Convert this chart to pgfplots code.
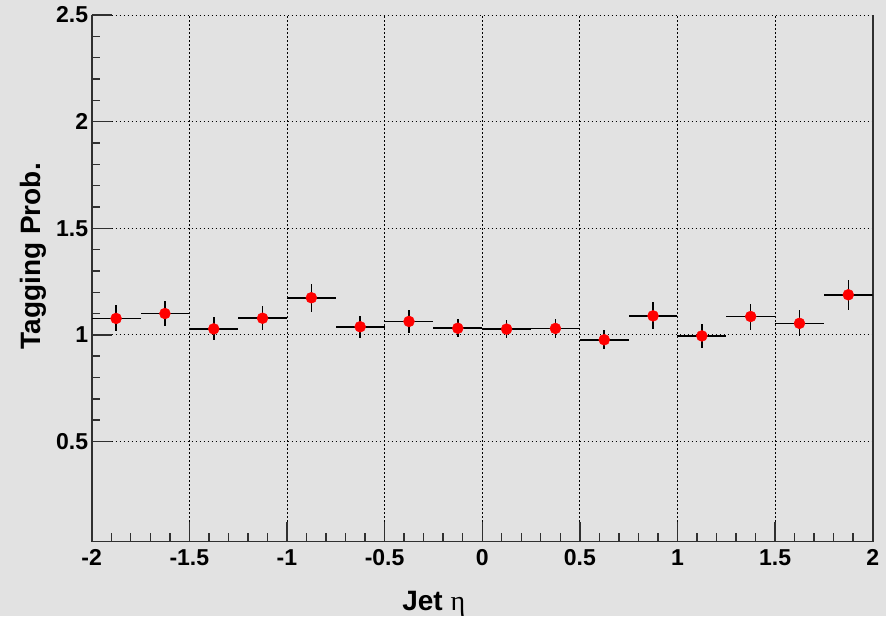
\documentclass[border=0pt]{standalone}
\usepackage{fontspec}
\setmainfont{Liberation Sans}
\newfontfamily\seriffont{Liberation Serif}
\usepackage{pgfplots}
\pgfplotsset{compat=1.18}
\definecolor{bg}{HTML}{E2E2E2}
\definecolor{axcol}{HTML}{303030}
\pgfplotstableread{
x y ex ey
-1.875 1.077 0.125 0.061
-1.625 1.100 0.125 0.060
-1.375 1.028 0.125 0.054
-1.125 1.078 0.125 0.056
-0.875 1.174 0.125 0.065
-0.625 1.038 0.125 0.052
-0.375 1.063 0.125 0.052
-0.125 1.031 0.125 0.043
0.125 1.027 0.125 0.044
0.375 1.030 0.125 0.046
0.625 0.977 0.125 0.045
0.875 1.089 0.125 0.063
1.125 0.995 0.125 0.055
1.375 1.086 0.125 0.061
1.625 1.054 0.125 0.061
1.875 1.188 0.125 0.070
}\datatable
\begin{document}
\begin{tikzpicture}[x=1pt,y=1pt]
\fill[bg] (0,0) rectangle (886,616);
\begin{axis}[
  at={(91.7pt,74.3pt)}, anchor=south west,
  scale only axis, width=781pt, height=526.7pt,
  xmin=-2, xmax=2, ymin=0.03, ymax=2.5,
  axis x line*=bottom, axis y line*=box,
  x axis line style={-}, y axis line style={-},
  axis line style={axcol, line width=1.6pt},
  xtick={-2,-1.5,-1,-0.5,0,0.5,1,1.5,2},
  xticklabels={-2,-1.5,-1,-0.5,0,0.5,1,1.5,2},
  ytick={0.5,1,1.5,2,2.5},
  yticklabels={0.5,1,1.5,2,2.5},
  minor x tick num=4, minor y tick num=4,
  ytick pos=left, xtick pos=bottom,
  tick align=inside,
  major tick length=20pt, minor tick length=8.5pt,
  tick style={axcol, line width=1.4pt},
  grid=major,
  major grid style={black, line width=0.9pt, dash pattern=on 1.5pt off 2.5pt},
  ticklabel style={font=\fontsize{23}{23}\selectfont\bfseries},
  xticklabel style={yshift=-4pt},
  xlabel={Jet {\seriffont\mdseries η}},
  ylabel={Tagging Prob.},
  label style={font=\fontsize{28}{28}\selectfont\bfseries},
  xlabel style={at={(axis description cs:0.438,-0.13)}, anchor=base},
  ylabel style={at={(axis description cs:-0.0752,0.542)}, anchor=center},
]
\addplot[only marks, mark=*, red, mark size=5.5pt,
  error bars/.cd, x dir=both, x explicit, y dir=both, y explicit,
  error mark=none, error bar style={black, line width=1.6pt}]
  table[x=x, y=y, x error=ex, y error=ey] {\datatable};
\end{axis}
\end{tikzpicture}
\end{document}
